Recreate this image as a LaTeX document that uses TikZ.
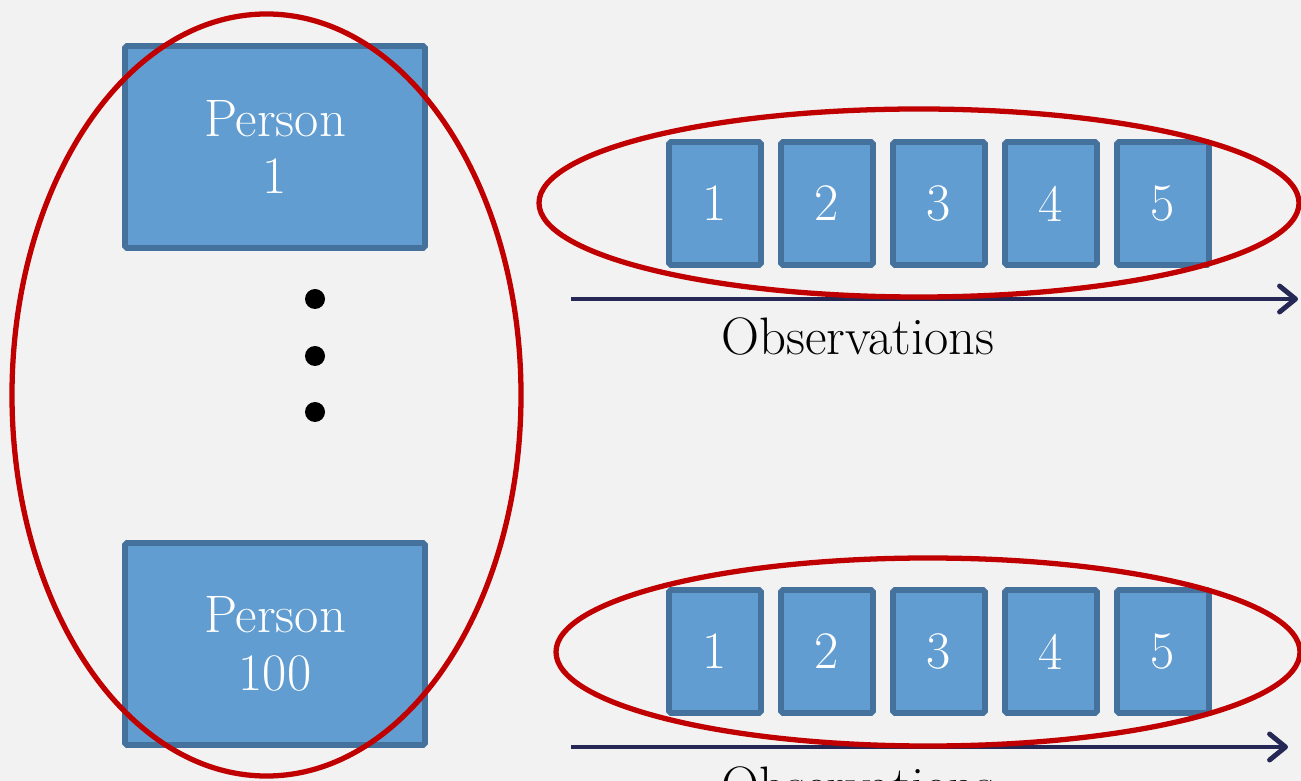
\documentclass[tikz,border=0pt]{standalone}
\usetikzlibrary{arrows.meta}
\definecolor{boxfill}{RGB}{97,157,208}
\definecolor{boxline}{RGB}{68,114,157}
\definecolor{ringred}{RGB}{192,0,0}
\definecolor{axisblue}{RGB}{37,39,84}
\definecolor{backgray}{RGB}{242,242,242}

\begin{document}
\begin{tikzpicture}[x=0.2mm, y=-0.2mm,
    box/.style={draw=boxline, fill=boxfill, line width=3.2pt, rounded corners=1pt,
        text=white, align=center, inner sep=0pt, font=\fontsize{30}{33}\selectfont},
    person/.style={box, minimum width=60mm, minimum height=40.4mm},
    obs/.style={box, minimum width=18.4mm, minimum height=24.6mm},
    dot/.style={circle, fill=black, inner sep=0pt, minimum size=4mm},
    ring/.style={draw=ringred, line width=3pt},
    axis/.style={draw=axisblue, line width=2.8pt, -{Straight Barb[length=3.2mm, width=5.2mm, round]}},
    lbl/.style={anchor=base, font=\fontsize{30}{33}\selectfont}]
    % Background
    \fill[backgray] (0,0) rectangle (1301,781);
    \useasboundingbox (0,0) rectangle (1301,781);

    % Persons (rectangles)
    \node[person] (p1) at (275,147) {Person\\1};
    \node[person] (p100) at (275,644) {Person\\100};
    \node[dot] (d1) at (315,299) {};
    \node[dot] (d2) at (315,356) {};
    \node[dot] (d3) at (315,412) {};

    % Observations of the first person
    \node[obs] (a1) at (715,203.5) {1};
    \node[obs] (a2) at (827,203.5) {2};
    \node[obs] (a3) at (939,203.5) {3};
    \node[obs] (a4) at (1051,203.5) {4};
    \node[obs] (a5) at (1163,203.5) {5};
    \coordinate (ta) at (571,299);
    \coordinate (tb) at (1298,299);
    \draw[axis] (ta) -- (tb);
    \node[lbl] (tl) at (858,355) {Observations};

    % Observations of the last person
    \node[obs] (b1) at (715,651.5) {1};
    \node[obs] (b2) at (827,651.5) {2};
    \node[obs] (b3) at (939,651.5) {3};
    \node[obs] (b4) at (1051,651.5) {4};
    \node[obs] (b5) at (1163,651.5) {5};
    \coordinate (ba) at (571,747);
    \coordinate (bb) at (1288,747);
    \draw[axis] (ba) -- (bb);
    \node[lbl] (bl) at (858,803) {Observations};

    % Red rings round the groups
    \draw[ring] (266.5,395) ellipse[x radius=50.9mm, y radius=76.2mm];
    \draw[ring] (919,203) ellipse[x radius=76mm, y radius=18.8mm];
    \draw[ring] (928,652) ellipse[x radius=74.4mm, y radius=18.8mm];
\end{tikzpicture}
\end{document}
